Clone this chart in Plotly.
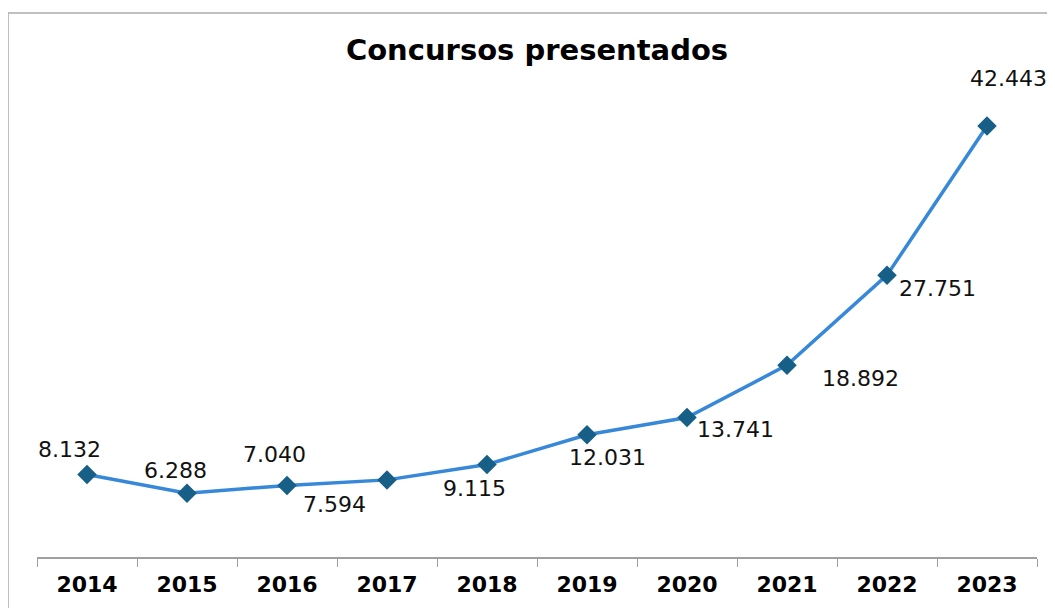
import plotly.graph_objects as go

years = ["2014", "2015", "2016", "2017", "2018", "2019", "2020", "2021", "2022", "2023"]
values = [8132, 6288, 7040, 7594, 9115, 12031, 13741, 18892, 27751, 42443]
labels = ["8.132", "6.288", "7.040", "7.594", "9.115", "12.031", "13.741", "18.892", "27.751", "42.443"]

# label offsets (pixels) relative to each point
label_dx = [-18, -12, -13, -53, -13, 20, 48, 73, 50, 21]
label_dy = [25, 23, 31, -25, -24, -23, -12, -13, -13, 47]

fig = go.Figure()
fig.add_trace(go.Scatter(
    x=years, y=values, mode="lines+markers",
    line=dict(color="#3788d8", width=3.5),
    marker=dict(symbol="diamond", size=15, color="#175f86"),
    hoverinfo="x+y", showlegend=False,
))

for i, (y, t, dx, dy) in enumerate(zip(values, labels, label_dx, label_dy)):
    fig.add_annotation(x=i, y=y, xref="x", yref="y", text=t, showarrow=False,
                       xshift=dx, yshift=dy,
                       font=dict(family="DejaVu Sans", size=22, color="#111111"))

OFF = 8  # page body offset
W, H = 1055, 608
L, R, T, B = 29, 26, 92, 59
pw, ph = W - L - R, H - T - B
def px(xs):
    return (xs - OFF - L) / pw
def py(ys):
    return (OFF + H - B - ys) / ph

fig.add_shape(type="line", xref="paper", yref="paper",
              x0=px(8), x1=px(1100), y0=py(13), y1=py(13),
              line=dict(color="#ababab", width=1.5))
fig.add_shape(type="line", xref="paper", yref="paper",
              x0=px(8), x1=px(8), y0=py(13), y1=py(700),
              line=dict(color="#ababab", width=1.5))

fig.update_layout(
    width=W, height=H,
    margin=dict(l=L, r=R, t=T, b=B),
    paper_bgcolor="white", plot_bgcolor="white",
    title=dict(text="<b>Concursos presentados</b>", x=(537 - OFF) / W, xanchor="center",
               y=1 - (50 - OFF) / H, yanchor="middle", yref="container",
               font=dict(family="DejaVu Sans", size=29, color="black")),
    xaxis=dict(type="category", categoryorder="array", categoryarray=years,
               range=[-0.5, len(years) - 0.5], autorange=False,
               tickson="boundaries", ticks="outside", ticklen=8,
               tickcolor="#a0a0a0", showline=True, linecolor="#a0a0a0", linewidth=1.5,
               showgrid=False, zeroline=False, tickangle=0,
               tickfont=dict(family="DejaVu Sans", size=22, color="black", weight="bold"),
               ticklabelstandoff=7),
    yaxis=dict(range=[0, 45000], visible=False, showgrid=False, zeroline=False),
)

fig.write_html("out.html")
